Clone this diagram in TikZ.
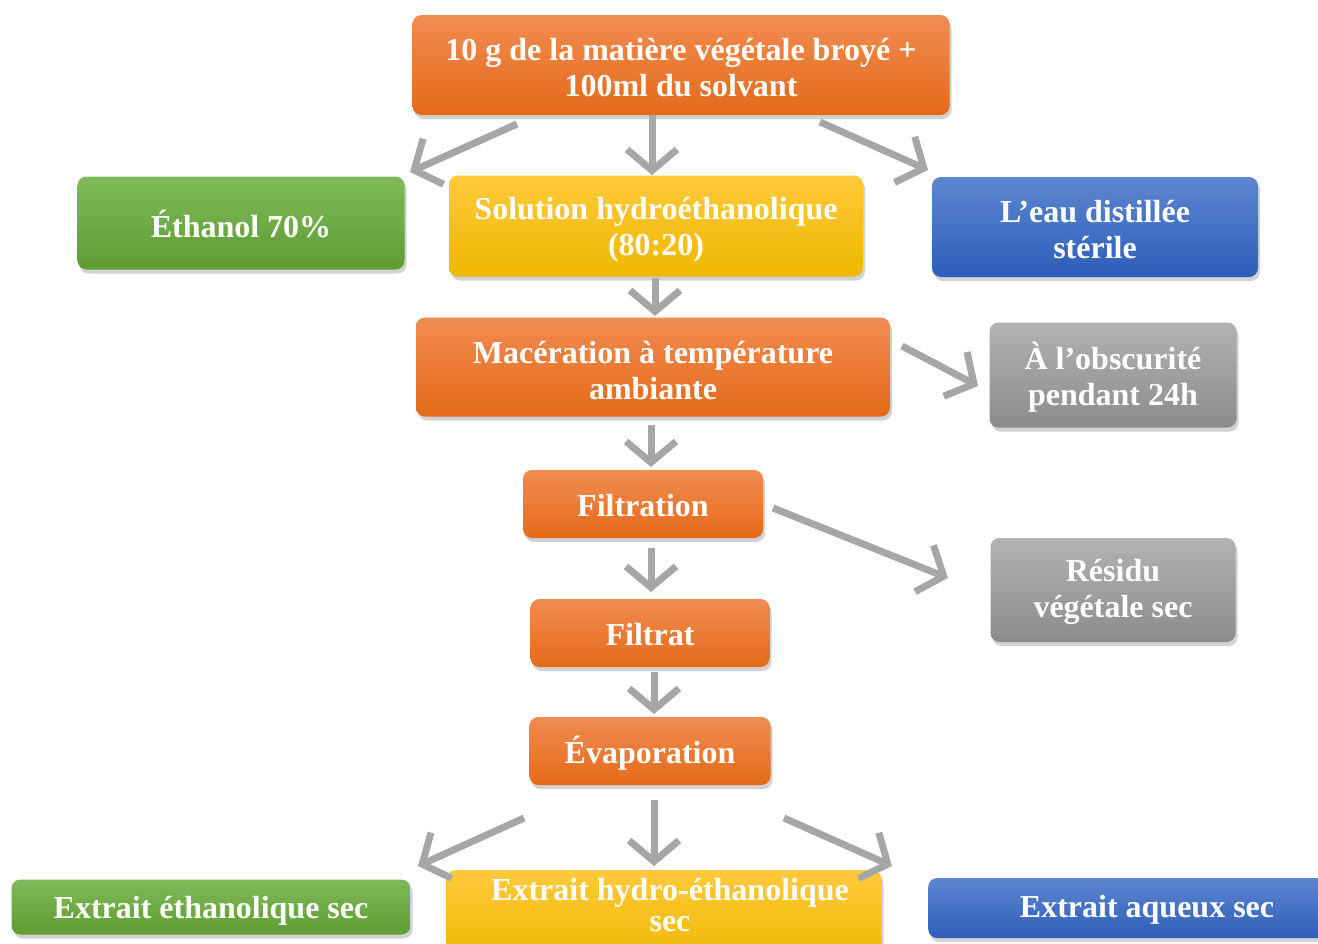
\documentclass[tikz,border=0pt]{standalone}
\usepackage{fontspec}
\setmainfont{Liberation Serif}
\usetikzlibrary{arrows.meta,shadows}
\definecolor{orT}{RGB}{241,140,82}
\definecolor{orB}{RGB}{228,106,24}
\definecolor{yeT}{RGB}{255,201,60}
\definecolor{yeB}{RGB}{238,184,0}
\definecolor{grT}{RGB}{128,186,90}
\definecolor{grB}{RGB}{94,156,50}
\definecolor{blT}{RGB}{92,134,208}
\definecolor{blB}{RGB}{46,94,184}
\definecolor{gyT}{RGB}{178,178,178}
\definecolor{gyB}{RGB}{140,140,140}
\definecolor{arr}{RGB}{166,166,166}
\tikzset{
  txt/.style={align=center, text=white, font=\fontsize{32}{36}\selectfont\bfseries, inner sep=0pt},
  boxbase/.style={rounded corners=9pt, inner sep=0pt,
    drop shadow={opacity=0.35, shadow xshift=2pt, shadow yshift=-4pt}},
  orbox/.style={boxbase, top color=orT, bottom color=orB},
  yebox/.style={boxbase, top color=yeT, bottom color=yeB},
  grbox/.style={boxbase, top color=grT, bottom color=grB},
  blbox/.style={boxbase, top color=blT, bottom color=blB},
  gybox/.style={boxbase, top color=gyT, bottom color=gyB},
  flow/.style={draw=arr, line width=7pt,
    -{Straight Barb[length=21pt,width=50pt,line width=7pt]}}
}
\begin{document}
\begin{tikzpicture}[x=1pt,y=-1pt]
\useasboundingbox (0,0) rectangle (1318,943);
\clip (0,0) rectangle (1318,943);
\fill[white] (0,0) rectangle (1318,943);
% boxes
\node[orbox, minimum width=537pt, minimum height=100pt] (top) at (681,65) {};
\node[grbox, minimum width=327pt, minimum height=93pt] (eth) at (241,223) {};
\node[yebox, minimum width=414pt, minimum height=101pt] (sol) at (656,226) {};
\node[blbox, minimum width=326pt, minimum height=100pt] (eau) at (1095,227) {};
\node[orbox, minimum width=474pt, minimum height=99pt] (mac) at (653,367) {};
\node[gybox, minimum width=247pt, minimum height=105pt] (obs) at (1113,375) {};
\node[orbox, minimum width=240pt, minimum height=68pt] (fil) at (643,504) {};
\node[gybox, minimum width=245pt, minimum height=104pt] (res) at (1113,590) {};
\node[orbox, minimum width=239pt, minimum height=68pt] (ftr) at (650,633) {};
\node[orbox, minimum width=241pt, minimum height=68pt] (eva) at (650,751) {};
\node[grbox, minimum width=399pt, minimum height=55pt] (xe) at (211,907) {};
\node[yebox, minimum width=435pt, minimum height=95pt, anchor=north] (xh) at (664,870) {};
\node[blbox, minimum width=400pt, minimum height=60pt, anchor=west] (xa) at (928,908) {};
% texts
\node[txt] (topt) at (681,68) {10 g de la matière végétale broyé +\\100ml du solvant};
\node[txt] (etht) at (241,224) {Éthanol 70\%};
\node[txt] (solt) at (656,230) {Solution hydroéthanolique\\(80:20)};
\node[txt] (eaut) at (1095,230) {L’eau distillée\\stérile};
\node[txt] (mact) at (653,371) {Macération à température\\ambiante};
\node[txt] (obst) at (1113,377) {À l’obscurité\\pendant 24h};
\node[txt] (filt) at (643,506) {Filtration};
\node[txt] (rest) at (1113,592) {Résidu\\végétale sec};
\node[txt] (ftrt) at (650,635) {Filtrat};
\node[txt] (evat) at (650,753) {Évaporation};
\node[txt] (xet) at (211,911) {Extrait éthanolique sec};
\node[txt, font=\fontsize{32}{31}\selectfont\bfseries] (xht) at (670,905) {Extrait hydro-éthanolique\\sec};
\node[txt] (xat) at (1147,910) {Extrait aqueux sec};
% arrow anchor coordinates
\coordinate (a1s) at (517,124); \coordinate (a1e) at (410,172);
\coordinate (a2s) at (652,115); \coordinate (a2e) at (652,175);
\coordinate (a3s) at (820,122); \coordinate (a3e) at (928,170);
\coordinate (a4s) at (655,278); \coordinate (a4e) at (655,316);
\coordinate (a5s) at (902,346); \coordinate (a5e) at (978,386);
\coordinate (a6s) at (651,425); \coordinate (a6e) at (651,467);
\coordinate (a7s) at (773,508); \coordinate (a7e) at (948,578);
\coordinate (a8s) at (651,548); \coordinate (a8e) at (651,592);
\coordinate (a9s) at (654,672); \coordinate (a9e) at (654,714);
\coordinate (a10s) at (524,818); \coordinate (a10e) at (418,866);
\coordinate (a11s) at (654,800); \coordinate (a11e) at (654,866);
\coordinate (a12s) at (784,818); \coordinate (a12e) at (892,866);
\foreach \i in {1,...,12} {\draw[flow] (a\i s) -- (a\i e);}
\end{tikzpicture}
\end{document}
